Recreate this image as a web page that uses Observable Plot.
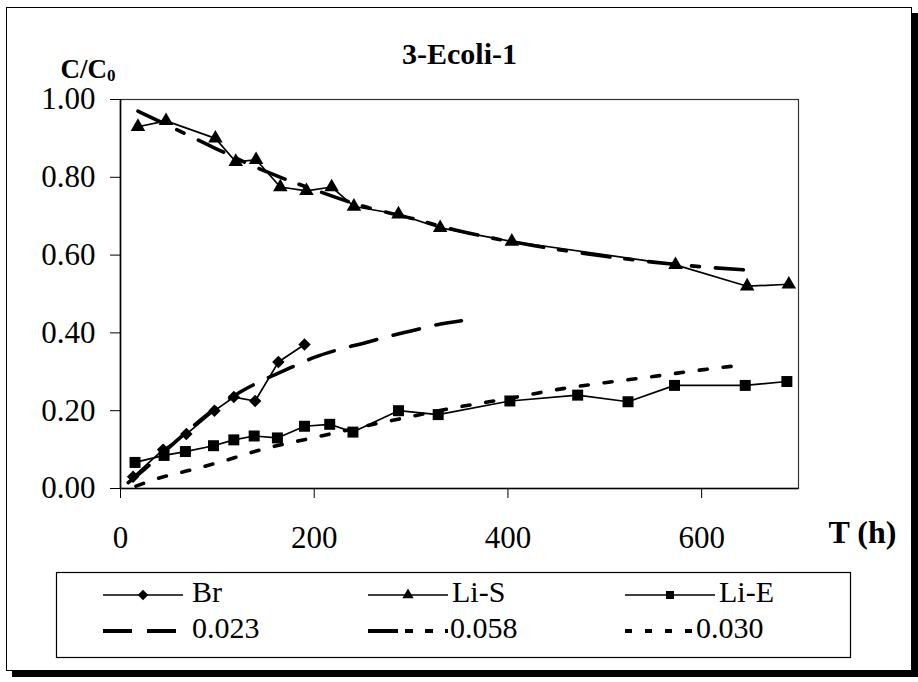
<!DOCTYPE html>
<html><head><meta charset="utf-8">
<script src="https://cdn.jsdelivr.net/npm/d3@7"></script>
<script src="https://cdn.jsdelivr.net/npm/@observablehq/plot@0.6"></script>
<style>
body{margin:0;background:#fff;}
#wrap{position:relative;width:918px;height:682px;background:#fff;overflow:hidden;font-family:'Liberation Serif',serif;}
#border{position:absolute;left:6px;top:7px;width:904px;height:662px;border:1px solid #000;box-shadow:6px 6px 0 #000;background:#fff;}
#chart{position:absolute;left:0;top:0;}
#legend{position:absolute;left:0;top:0;}
</style></head><body>
<div id="wrap"><div id="border"></div><div id="chart"></div><svg id="legend" width="918" height="682" font-family="Liberation Serif"></svg></div>
<script>
// ---- data ----
const title = "3-Ecoli-1";
const xTicks = [0, 200, 400, 600];
const yTicks = [0, 0.2, 0.4, 0.6, 0.8, 1.0];

const brT = [13, 44, 68, 97, 117, 139, 163, 190];
const brC = [0.03, 0.10, 0.14, 0.20, 0.235, 0.225, 0.325, 0.37];

const liST = [18, 47, 98, 119, 140, 165, 192, 218, 241, 287, 330, 404, 573, 647, 690];
const liSC = [0.93, 0.945, 0.90, 0.84, 0.845, 0.775, 0.765, 0.775, 0.725, 0.705, 0.67, 0.635, 0.575, 0.52, 0.525];

const liET = [15, 45, 67, 96, 117, 138, 162, 190, 216, 240, 287, 328, 402, 472, 524, 572, 645, 688];
const liEC = [0.067, 0.085, 0.095, 0.11, 0.125, 0.135, 0.13, 0.16, 0.165, 0.145, 0.20, 0.19, 0.225, 0.24, 0.223, 0.265, 0.265, 0.275];

const fitBrT = [8, 25, 50, 75, 100, 125, 150, 175, 200, 225, 250, 275, 300, 325, 352];
const fitBrC = [0.015, 0.05, 0.105, 0.16, 0.21, 0.25, 0.282, 0.31, 0.337, 0.357, 0.373, 0.39, 0.405, 0.42, 0.431];

const fitST = [18, 50, 100, 150, 200, 250, 300, 350, 400, 450, 500, 550, 600, 650];
const fitSC = [0.97, 0.932, 0.872, 0.815, 0.768, 0.726, 0.695, 0.662, 0.636, 0.615, 0.597, 0.582, 0.57, 0.561];

const fitET = [16, 40, 70, 100, 150, 200, 250, 300, 350, 400, 450, 500, 550, 600, 645];
const fitEC = [0.006, 0.027, 0.046, 0.066, 0.103, 0.131, 0.159, 0.185, 0.21, 0.231, 0.254, 0.272, 0.288, 0.305, 0.318];

const seriesNames = ["Br", "Li-S", "Li-E"];
const fitNames = ["0.023", "0.058", "0.030"];

const zip = (t, c) => t.map((v, i) => ({t: v, c: c[i]}));
const br = zip(brT, brC), liS = zip(liST, liSC), liE = zip(liET, liEC);
const fBr = zip(fitBrT, fitBrC), fS = zip(fitST, fitSC), fE = zip(fitET, fitEC);

const FONT = "'Liberation Serif', serif";
const fs = 31;

const chart = Plot.plot({
  width: 918, height: 560,
  marginLeft: 120, marginRight: 120, marginTop: 99, marginBottom: 72,
  style: {fontFamily: FONT, fontSize: fs + "px", color: "#000", background: "transparent", overflow: "visible"},
  x: {domain: [0, 700]},
  y: {domain: [0, 1]},
  marks: [
    Plot.frame({stroke: "#333", strokeWidth: 1.2}),
    Plot.axisY({ticks: yTicks, tickFormat: d => d.toFixed(2), tickSize: 10, tickPadding: 15, label: null, fontSize: fs, fontFamily: "Liberation Serif"}),
    Plot.axisX({ticks: xTicks, tickSize: 10, tickPadding: 27, label: null, fontSize: fs, fontFamily: "Liberation Serif"}),
    Plot.ruleX([0], {stroke: "#000", strokeWidth: 1.6}),
    Plot.ruleY([0], {stroke: "#000", strokeWidth: 1.4}),
    // fitted curves
    Plot.line(fBr, {x: "t", y: "c", stroke: "#000", strokeWidth: 3.6, strokeDasharray: "27,17", curve: "monotone-x"}),
    Plot.line(fS, {x: "t", y: "c", stroke: "#000", strokeWidth: 3.6, strokeDasharray: "28,15,8,16", curve: "monotone-x"}),
    Plot.line(fE, {x: "t", y: "c", stroke: "#000", strokeWidth: 3.6, strokeDasharray: "8,16", curve: "monotone-x"}),
    // measured series
    Plot.line(br, {x: "t", y: "c", stroke: "#000", strokeWidth: 1.7}),
    Plot.line(liS, {x: "t", y: "c", stroke: "#000", strokeWidth: 1.7}),
    Plot.line(liE, {x: "t", y: "c", stroke: "#000", strokeWidth: 1.7}),
    Plot.dot(br, {x: "t", y: "c", symbol: "diamond2", r: 5.6, fill: "#000", stroke: "none"}),
    Plot.dot(liS, {x: "t", y: "c", symbol: "triangle", r: 5.4, fill: "#000", stroke: "none"}),
    Plot.dot(liE, {x: "t", y: "c", symbol: "square", r: 6.2, fill: "#000", stroke: "none"}),
    // texts
    Plot.text([title], {text: d => d, frameAnchor: "top", dy: -36, lineAnchor: "bottom", fontWeight: "bold", fontSize: 30, fontFamily: "Liberation Serif"}),
    Plot.text(["C/C"], {text: d => d, frameAnchor: "top-left", dx: -60, dy: -22, lineAnchor: "bottom", textAnchor: "start", fontWeight: "bold", fontSize: 27, fontFamily: "Liberation Serif"}),
    Plot.text(["0"], {text: d => d, frameAnchor: "top-left", dx: -13.5, dy: -19, lineAnchor: "bottom", textAnchor: "start", fontWeight: "bold", fontSize: 17, fontFamily: "Liberation Serif"}),
    Plot.text(["T (h)"], {text: d => d, frameAnchor: "bottom-right", dx: 30, dy: 44, lineAnchor: "middle", textAnchor: "start", fontWeight: "bold", fontSize: 32, fontFamily: "Liberation Serif"})
  ]
});
document.getElementById("chart").appendChild(chart);

// ---- legend below the chart ----
const lg = d3.select("#legend");
lg.append("rect").attr("x", 56.5).attr("y", 572.5).attr("width", 794).attr("height", 85)
  .attr("fill", "none").attr("stroke", "#000").attr("stroke-width", 1.2);
const cols = [{x0: 103, x1: 183, tx: 192}, {x0: 368, x1: 448, tx: 452}, {x0: 625, x1: 715, tx: 719}];
const symbols = [d3.symbolDiamond2, d3.symbolTriangle, d3.symbolSquare];
const symSizes = [70, 55, 64];
const fitDash = ["29,15", "30,7,8,12,8,12", "7,13"];
const fitEnd = [176, 448, 694];
seriesNames.forEach((name, i) => {
  const c = cols[i];
  lg.append("line").attr("x1", c.x0).attr("x2", c.x1).attr("y1", 595).attr("y2", 595)
    .attr("stroke", "#000").attr("stroke-width", 1.5);
  lg.append("path").attr("d", d3.symbol(symbols[i], symSizes[i])())
    .attr("transform", `translate(${(c.x0 + c.x1) / 2},595)`).attr("fill", "#000");
  lg.append("text").attr("x", c.tx).attr("y", 602).text(name)
    .attr("font-family", "Liberation Serif").attr("font-size", 30).attr("fill", "#000");
});
fitNames.forEach((name, i) => {
  const c = cols[i];
  lg.append("line").attr("x1", c.x0).attr("x2", fitEnd[i]).attr("y1", 631).attr("y2", 631)
    .attr("stroke", "#000").attr("stroke-width", 4).attr("stroke-dasharray", fitDash[i]);
  lg.append("text").attr("x", i === 0 ? c.tx : fitEnd[i] + 2).attr("y", 638).text(name)
    .attr("font-family", "Liberation Serif").attr("font-size", 30).attr("fill", "#000");
});
</script>
</body></html>
